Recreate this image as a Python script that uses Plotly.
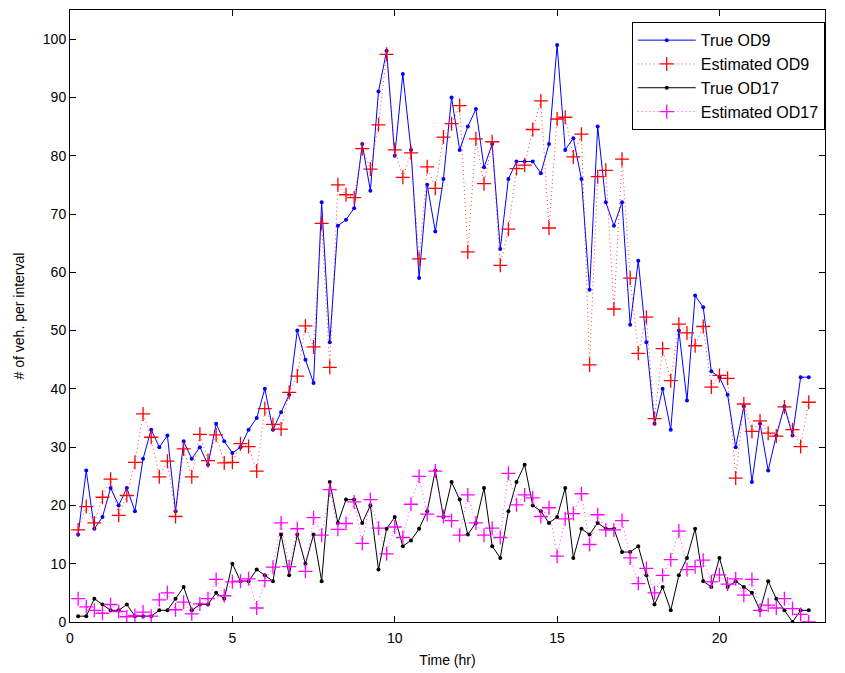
import plotly.graph_objects as go

# 15-minute counting intervals over the day
interval_hr = 0.25
n_intervals = 91
time_hr = [interval_hr * k for k in range(1, n_intervals + 1)]

true_od9 = [15, 26, 16, 18, 23, 20, 23, 19, 28, 33,
            30, 32, 19, 31, 28, 30, 27, 34, 31, 29,
            30, 33, 35, 40, 33, 36, 39, 50, 45, 41,
            72, 48, 68, 69, 71, 82, 74, 91, 98, 80,
            94, 81, 59, 75, 67, 76, 90, 81, 85, 88,
            78, 82, 64, 76, 79, 79, 79, 77, 82, 99,
            81, 83, 76, 57, 85, 72, 68, 72, 51, 62,
            48, 34, 40, 33, 50, 38, 56, 54, 43, 42,
            39, 30, 37, 24, 34, 26, 32, 37, 32, 42,
            42]

est_od9 = [15.8, 19.8, 17.0, 21.4, 24.5, 18.3, 21.7, 27.4, 35.7, 31.7,
           24.9, 27.6, 18.1, 29.7, 24.9, 32.2, 27.7, 32.1, 27.3, 27.4,
           30.6, 30.1, 25.9, 36.6, 33.9, 33.1, 39.4, 42.2, 50.8, 47.2,
           68.4, 43.7, 75.0, 73.3, 72.8, 81.2, 77.7, 85.3, 97.4, 81.0,
           76.3, 80.5, 62.3, 78.1, 74.4, 83.2, 85.5, 88.6, 63.5, 82.9,
           75.2, 82.4, 61.2, 67.4, 77.8, 78.4, 84.5, 89.4, 67.6, 86.3,
           86.6, 79.8, 83.7, 44.1, 76.4, 77.5, 53.7, 79.4, 59.0, 46.1,
           52.3, 34.9, 46.9, 41.4, 51.1, 49.6, 47.4, 50.7, 40.3, 42.3,
           41.8, 24.7, 37.4, 32.7, 34.5, 32.4, 31.9, 36.9, 33.0, 30.1,
           37.7]

true_od17 = [1, 1, 4, 3, 2, 2, 3, 1, 1, 1,
             2, 2, 4, 6, 2, 3, 3, 5, 4, 10,
             7, 7, 9, 8, 7, 15, 8, 15, 10, 15,
             7, 24, 17, 21, 21, 17, 20, 9, 16, 18,
             13, 14, 16, 19, 26, 18, 24, 21, 15, 17,
             23, 13, 11, 19, 24, 27, 20, 19, 17, 18,
             23, 11, 16, 15, 17, 16, 16, 12, 12, 13,
             8, 3, 6, 2, 8, 11, 16, 7, 6, 11,
             6, 7, 6, 5, 2, 7, 4, 2, 0, 2,
             2]

est_od17 = [4.0, 2.6, 2.0, 1.5, 3.0, 1.8, 0.9, 1.1, 1.7, 1.0,
            3.8, 5.0, 2.1, 3.4, 1.4, 3.1, 4.0, 7.3, 4.5, 6.9,
            7.0, 7.4, 2.4, 7.1, 9.4, 17.0, 9.5, 16.0, 8.7, 17.9,
            14.9, 22.7, 15.9, 16.9, 20.6, 13.5, 21.0, 16.1, 11.7, 16.3,
            14.5, 20.2, 25.0, 18.5, 25.9, 18.1, 17.4, 14.9, 21.8, 17.0,
            14.9, 16.1, 14.5, 25.5, 20.1, 21.8, 21.3, 18.1, 19.6, 11.3,
            17.7, 18.6, 22.0, 13.3, 18.4, 15.8, 15.8, 17.4, 11.0, 6.6,
            9.2, 5.0, 8.0, 10.7, 15.6, 9.0, 9.5, 10.6, 6.9, 8.1,
            6.5, 7.4, 4.6, 7.3, 2.0, 2.9, 2.4, 4.0, 2.3, 1.3,
            0.0]

x_ticks = [0, 5, 10, 15, 20]
y_ticks = [0, 10, 20, 30, 40, 50, 60, 70, 80, 90, 100]

FONT = "Liberation Sans, Arial, Helvetica, sans-serif"

fig = go.Figure()

fig.add_trace(go.Scatter(
    x=time_hr, y=true_od9, name="True OD9", mode="lines+markers",
    line=dict(color="#0000ff", width=1),
    marker=dict(symbol="circle", size=4, color="#0000ff"),
))
fig.add_trace(go.Scatter(
    x=time_hr, y=est_od9, name="Estimated OD9", mode="lines+markers",
    line=dict(color="rgba(255,0,0,0.75)", width=1, dash="1px,3px"),
    marker=dict(symbol="cross-thin", size=10, color="#ff0000",
                line=dict(color="#ff0000", width=1.3)),
))
fig.add_trace(go.Scatter(
    x=time_hr, y=true_od17, name="True OD17", mode="lines+markers",
    line=dict(color="#000000", width=1),
    marker=dict(symbol="circle", size=4, color="#000000"),
))
fig.add_trace(go.Scatter(
    x=time_hr, y=est_od17, name="Estimated OD17", mode="lines+markers",
    line=dict(color="rgba(255,0,255,0.75)", width=1, dash="1px,3px"),
    marker=dict(symbol="cross-thin", size=10, color="#ff00ff",
                line=dict(color="#ff00ff", width=1.3)),
))

axis_common = dict(
    showline=True, linecolor="black", linewidth=1, mirror="allticks",
    ticks="inside", ticklen=6, tickcolor="black", tickwidth=1,
    showgrid=False, zeroline=False, automargin=False,
    tickfont=dict(family=FONT, size=14, color="black"),
)

fig.update_xaxes(
    range=[0, 23.25], tickvals=x_ticks, ticktext=[str(v) for v in x_ticks],
    ticklabelstandoff=3,
    title=dict(text="Time (hr)", font=dict(family=FONT, size=14, color="black"),
               standoff=10),
    **axis_common,
)
fig.update_yaxes(
    range=[0, 105], tickvals=y_ticks, ticktext=[str(v) for v in y_ticks],
    title=dict(text="# of veh. per interval",
               font=dict(family=FONT, size=14, color="black"), standoff=14),
    **axis_common,
)

fig.update_layout(
    width=845, height=673, autosize=False,
    margin=dict(l=70, r=20, t=10, b=51, pad=0),
    paper_bgcolor="white", plot_bgcolor="white",
    font=dict(family=FONT, size=14, color="black"),
    showlegend=True,
    legend=dict(
        x=0.744, y=0.98, xanchor="left", yanchor="top",
        bgcolor="white", bordercolor="black", borderwidth=1,
        font=dict(family=FONT, size=16, color="black"),
        tracegroupgap=0, itemwidth=58,
        entrywidth=196, entrywidthmode="pixels",
    ),
)

fig.write_html("out.html")
